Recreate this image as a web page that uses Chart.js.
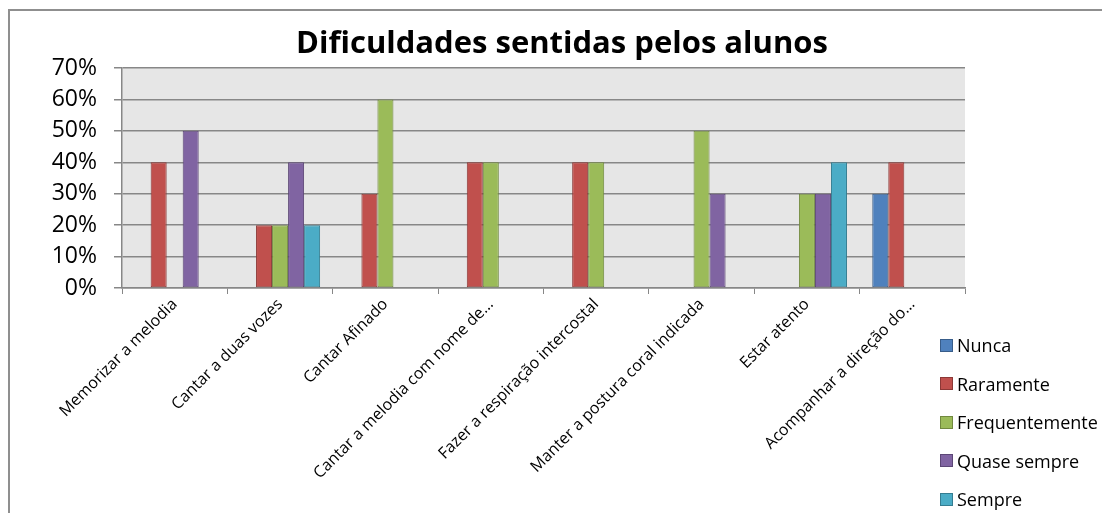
<!DOCTYPE html>
<html>
<head>
<meta charset="utf-8">
<title>Dificuldades sentidas pelos alunos</title>
<script src="https://cdn.jsdelivr.net/npm/chart.js@4.4.0/dist/chart.umd.min.js"></script>
<style>
    html, body { margin: 0; padding: 0; background: #fff; width: 1102px; height: 513px; overflow: hidden; }
    #page { position: absolute; left: 0; top: 0; width: 1102px; height: 513px; overflow: hidden; }
    #frame { position: absolute; left: 8px; top: 9px; width: 1200px; height: 600px; border: 2px solid #8f8f8f; }
    #wrap { position: absolute; left: 0; top: 0; width: 1124px; height: 513px; }
    #legend { position: absolute; left: 940px; top: 326px; font-family: 'Open Sans', sans-serif; font-size: 18px; color: #000; white-space: nowrap; }
    #legend .item { height: 38.5px; display: flex; align-items: center; }
    #legend .box { width: 11px; height: 11px; border: 1px solid; margin-right: 4px; }
</style>
</head>
<body>
<div id="page">
    <div id="frame"></div>
    <div id="wrap"><canvas id="myChart" width="1124" height="513"></canvas></div>
    <div id="legend"></div>
</div>

<script>
// Data (percent of students)
const categories = [
    'Memorizar a melodia',
    'Cantar a duas vozes',
    'Cantar Afinado',
    'Cantar a melodia com nome de…',
    'Fazer a respiração intercostal',
    'Manter a postura coral indicada',
    'Estar atento',
    'Acompanhar a direção do…'
];
const seriesNames = ['Nunca', 'Raramente', 'Frequentemente', 'Quase sempre', 'Sempre'];
const nunca          = [0, 0, 0, 0, 0, 0, 0, 30];
const raramente      = [40, 20, 30, 40, 40, 0, 0, 40];
const frequentemente = [0, 20, 60, 40, 40, 50, 30, 0];
const quaseSempre    = [50, 40, 0, 0, 0, 30, 30, 0];
const sempre         = [0, 20, 0, 0, 0, 0, 40, 0];
const yTicks = [0, 10, 20, 30, 40, 50, 60, 70];

const chartTitle = 'Dificuldades sentidas pelos alunos';
const fillColors   = ['#4F81BD', '#C0504D', '#9BBB59', '#8064A2', '#4BACC6'];
const borderColors = ['#385D8A', '#8C3836', '#71893F', '#5C4776', '#357D91'];
const seriesValues = [nunca, raramente, frequentemente, quaseSempre, sempre];

// grey plot area like the spreadsheet chart
const plotBackground = {
    id: 'plotBackground',
    beforeDraw(chart) {
        const a = chart.chartArea;
        const ctx = chart.ctx;
        ctx.save();
        ctx.fillStyle = '#e6e6e6';
        ctx.fillRect(a.left, a.top, a.right - a.left, a.bottom - a.top);
        ctx.restore();
    }
};

// title centred on the whole chart box, not only on the plot
const chartTitlePlugin = {
    id: 'chartTitlePlugin',
    afterDraw(chart) {
        const ctx = chart.ctx;
        ctx.save();
        ctx.font = 'bold 31px "Open Sans"';
        ctx.fillStyle = '#000';
        ctx.textAlign = 'center';
        ctx.textBaseline = 'alphabetic';
        ctx.fillText(chartTitle, chart.width / 2, 53);
        ctx.restore();
    }
};

function renderChart() {
    const ctx = document.getElementById('myChart').getContext('2d');
    new Chart(ctx, {
        type: 'bar',
        data: {
            labels: categories,
            datasets: seriesNames.map((name, i) => ({
                label: name,
                data: seriesValues[i],
                backgroundColor: fillColors[i],
                borderColor: borderColors[i],
                borderWidth: 1,
                borderSkipped: false,
                categoryPercentage: 0.76,
                barPercentage: 1
            }))
        },
        options: {
            responsive: false,
            animation: false,
            layout: { padding: { left: 0, right: 159, top: 68, bottom: 0 } },
            plugins: {
                legend: { display: false },
                tooltip: { enabled: false },
                title: { display: false }
            },
            scales: {
                x: {
                    grid: { drawOnChartArea: false, drawTicks: true, tickLength: 6, color: '#878787', lineWidth: 1 },
                    border: { color: '#878787', width: 1.5 },
                    ticks: {
                        color: '#000',
                        font: { family: 'Open Sans', size: 16 },
                        minRotation: 45,
                        maxRotation: 45,
                        autoSkip: false,
                        padding: 1
                    },
                    afterFit(scale) { scale.height = 225; }
                },
                y: {
                    min: 0,
                    max: 70,
                    afterBuildTicks(scale) { scale.ticks = yTicks.map(v => ({ value: v })); },
                    grid: { color: '#878787', lineWidth: 1.5, tickLength: 8 },
                    border: { color: '#878787', width: 1.5 },
                    ticks: {
                        color: '#000',
                        font: { family: 'Open Sans', size: 23 },
                        padding: 17,
                        callback: v => v + '%'
                    },
                    afterFit(scale) { scale.width = 122; }
                }
            }
        },
        plugins: [plotBackground, chartTitlePlugin]
    });
}

function renderLegend() {
    const legend = document.getElementById('legend');
    seriesNames.forEach((name, i) => {
        const item = document.createElement('div');
        item.className = 'item';
        const box = document.createElement('span');
        box.className = 'box';
        box.style.background = fillColors[i];
        box.style.borderColor = borderColors[i];
        const txt = document.createElement('span');
        txt.textContent = name;
        item.appendChild(box);
        item.appendChild(txt);
        legend.appendChild(item);
    });
}

renderChart();
renderLegend();
</script>
</body>
</html>
